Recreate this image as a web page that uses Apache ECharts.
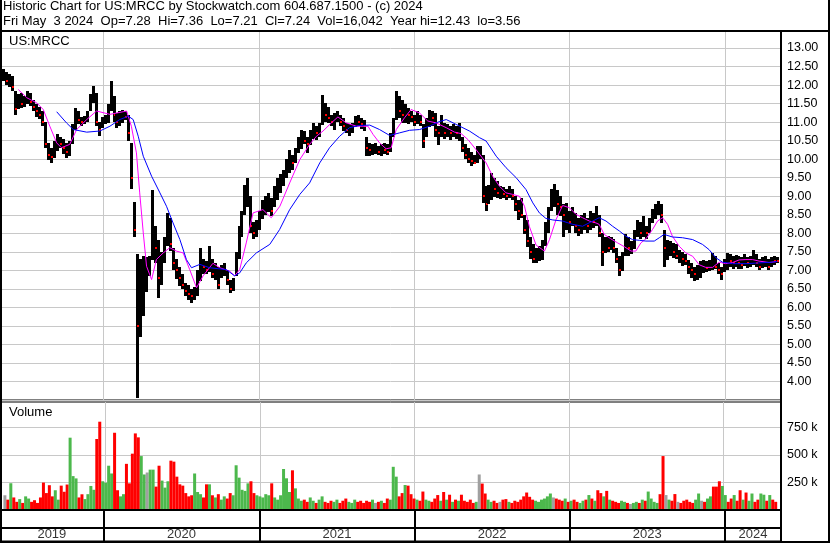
<!DOCTYPE html>
<html><head><meta charset="utf-8">
<script src="https://cdn.jsdelivr.net/npm/echarts@6/dist/echarts.min.js"></script>
<style>html,body{margin:0;padding:0;background:#fff}#c{width:830px;height:543px}</style>
</head><body><div id="c"></div>
<script>
// ---------- data (weekly bars, first bar = Friday 2019-05-10) ----------
const firstWeek = [2019, 4, 10];
const axisStart = [2019, 4, 2];
const axisEnd = [2024, 4, 12];
const yearBreaks = [2020, 2021, 2022, 2023, 2024];
const yearNames = ['2019', '2020', '2021', '2022', '2023', '2024'];

const weekLow = [
12.1,12.0,11.95,11.85,11.2,11.35,11.4,11.4,11.5,11.45,
11.3,11.15,11.07,10.9,10.3,10.0,9.9,10.05,10.2,10.3,
10.15,10.04,10.1,10.4,10.8,10.95,10.9,10.95,11.0,11.3,
11.5,10.9,10.62,10.85,10.95,11.0,11.3,11.0,10.85,10.9,
11.0,11.05,10.5,9.2,7.9,3.56,5.2,5.76,6.4,6.85,
7.29,7.2,6.26,6.6,7.2,7.65,7.5,7.0,6.75,6.6,
6.5,6.3,6.2,6.12,6.2,6.3,6.7,6.9,6.9,6.95,
6.8,6.75,6.5,6.8,6.85,6.6,6.4,6.45,6.85,7.3,
7.9,8.5,8.73,8.0,7.83,7.9,8.1,8.4,8.5,8.6,
8.46,8.7,8.9,9.1,9.3,9.5,9.63,9.7,9.9,10.17,
10.3,10.4,10.17,10.4,10.55,10.53,10.6,10.9,11.0,10.98,
10.9,10.8,11.0,10.9,10.76,10.7,10.62,10.7,10.85,10.9,
10.8,10.76,10.1,10.08,10.1,10.15,10.1,10.08,10.15,10.1,
10.2,10.6,11.07,11.1,10.98,11.0,10.95,11.0,10.89,10.95,
10.9,10.31,10.6,10.89,10.9,10.6,10.4,10.6,10.55,10.6,
10.53,10.6,10.55,10.5,10.2,10.0,9.9,9.81,9.85,9.9,
10.0,8.8,8.6,8.8,8.91,9.0,8.95,8.91,8.95,8.91,
8.95,8.9,8.6,8.37,8.4,8.0,7.65,7.3,7.2,7.2,
7.25,7.3,7.65,8.0,8.6,8.7,8.5,8.46,7.92,8.1,
8.01,8.2,8.0,7.92,8.0,8.1,8.0,8.1,8.15,8.2,
7.9,7.11,7.47,7.5,7.55,7.47,7.2,6.84,7.0,7.38,
7.4,7.45,7.6,7.92,7.83,7.9,7.85,8.0,8.28,8.4,
8.5,8.3,7.11,7.3,7.4,7.35,7.29,7.2,7.11,7.15,
6.9,6.8,6.71,6.75,6.8,6.93,6.95,7.0,7.02,7.05,
6.9,6.75,6.95,7.02,7.1,7.05,7.1,7.05,7.02,7.1,
7.05,7.1,7.15,7.11,7.0,7.05,7.1,7.0,7.1,7.15,7.21];

const weekHigh = [
12.43,12.35,12.3,12.25,11.85,11.75,11.8,11.7,11.85,11.8,
11.6,11.5,11.4,11.3,11.0,10.45,10.3,10.5,10.67,10.6,
10.55,10.45,10.5,10.95,11.39,11.3,11.15,11.16,11.3,11.75,
11.97,11.8,11.0,11.15,11.2,11.5,12.1,11.7,11.25,11.3,
11.34,11.3,11.2,10.45,8.85,7.45,7.3,7.38,7.35,7.4,
9.18,8.19,7.83,7.5,7.9,8.55,8.4,7.6,7.3,7.1,
6.9,6.66,6.6,6.5,6.55,7.0,7.6,7.3,7.25,7.65,
7.3,7.2,7.1,7.15,7.2,7.0,6.75,6.8,7.5,8.19,
8.6,9.3,9.5,9.0,8.3,8.37,8.6,8.9,9.0,9.1,
8.95,9.27,9.5,9.6,9.72,10.0,10.26,10.1,10.3,10.6,
10.8,10.75,10.6,10.8,10.98,10.9,10.98,11.72,11.52,11.4,
11.2,11.25,11.3,11.2,11.1,10.98,10.95,10.98,11.16,11.2,
11.1,11.05,10.6,10.44,10.4,10.44,10.35,10.4,10.44,10.4,
10.7,11.1,11.84,11.7,11.6,11.5,11.39,11.3,11.2,11.3,
11.2,10.95,11.1,11.34,11.3,11.25,10.9,11.2,10.98,10.95,
10.9,10.95,10.9,10.98,10.6,10.4,10.3,10.2,10.1,10.35,
10.35,10.1,9.27,9.3,9.63,9.5,9.4,9.27,9.25,9.2,
9.27,9.2,9.0,8.9,8.95,8.5,8.37,7.9,7.7,7.6,
7.65,7.83,8.3,8.7,9.2,9.32,9.18,9.0,8.8,8.82,
8.6,8.7,8.55,8.4,8.5,8.55,8.4,8.6,8.55,8.74,
8.5,8.0,7.9,7.92,7.9,7.85,7.6,7.38,7.5,7.97,
7.9,7.8,8.1,8.37,8.3,8.46,8.2,8.4,8.65,8.8,
8.87,8.8,8.1,7.83,7.8,7.75,7.7,7.56,7.5,7.45,
7.29,7.2,7.1,7.15,7.25,7.29,7.25,7.29,7.47,7.4,
7.2,7.1,7.3,7.47,7.45,7.4,7.42,7.4,7.35,7.43,
7.35,7.4,7.56,7.45,7.3,7.35,7.4,7.3,7.36,7.38,7.36];

const weekClose = [
12.25,12.1,12.2,11.95,11.35,11.6,11.5,11.65,11.7,11.55,
11.4,11.3,11.2,11.0,10.4,10.1,10.05,10.35,10.5,10.4,
10.3,10.2,10.35,10.85,11.2,11.05,11.0,11.1,11.2,11.6,
11.85,11.0,10.8,11.0,11.1,11.4,11.8,11.2,11.0,11.15,
11.2,11.15,10.7,9.5,8.1,5.5,6.5,6.9,6.9,7.1,
8.0,7.6,6.8,7.2,7.7,8.2,7.7,7.2,7.0,6.8,
6.6,6.45,6.35,6.3,6.4,6.9,7.3,7.1,7.0,7.5,
6.9,7.0,6.6,7.0,7.05,6.75,6.5,6.7,7.4,8.0,
8.4,9.1,9.2,8.2,8.0,8.2,8.5,8.7,8.8,8.9,
8.6,9.1,9.3,9.4,9.6,9.8,10.0,9.9,10.2,10.5,
10.6,10.5,10.4,10.7,10.8,10.7,10.9,11.3,11.2,11.1,
11.0,11.1,11.2,11.0,10.9,10.8,10.85,10.9,11.05,11.0,
10.95,10.9,10.3,10.25,10.3,10.3,10.2,10.3,10.25,10.2,
10.6,11.0,11.5,11.3,11.2,11.3,11.2,11.15,11.0,11.2,
11.0,10.5,11.0,11.2,11.1,10.8,10.7,11.0,10.7,10.8,
10.7,10.85,10.7,10.8,10.3,10.1,10.0,9.95,9.9,10.2,
10.2,9.0,8.8,9.1,9.4,9.2,9.1,9.1,9.05,9.0,
9.1,9.0,8.8,8.6,8.5,8.1,7.8,7.5,7.3,7.35,
7.4,7.7,8.1,8.6,8.9,8.9,8.8,8.7,8.5,8.6,
8.3,8.4,8.2,8.1,8.3,8.4,8.2,8.4,8.3,8.5,
8.0,7.5,7.7,7.6,7.8,7.6,7.3,7.0,7.4,7.7,
7.6,7.6,8.0,8.2,8.0,8.3,8.0,8.3,8.5,8.7,
8.75,8.5,7.6,7.6,7.7,7.5,7.4,7.4,7.3,7.25,
7.1,7.0,6.9,7.0,7.1,7.1,7.05,7.2,7.3,7.1,
7.0,6.9,7.2,7.3,7.25,7.2,7.3,7.2,7.15,7.3,
7.2,7.25,7.4,7.2,7.1,7.2,7.25,7.1,7.3,7.25,7.24];

// weekly volume, thousands of shares
const weekVolumeK = [
130,90,240,110,70,95,60,120,100,70,
85,60,110,246,150,222,120,176,90,218,
162,228,656,305,284,110,139,95,140,215,
180,644,802,258,245,400,329,701,176,120,
140,417,239,510,695,659,488,320,338,364,364,
209,400,264,200,258,446,437,300,230,218,
150,120,130,329,160,140,110,230,230,130,
110,140,90,120,100,150,130,404,291,180,
170,239,258,150,130,120,110,140,130,239,
110,90,130,370,285,160,358,193,100,80,
90,70,110,80,60,90,120,70,60,80,
70,90,60,80,100,70,60,90,70,80,
60,80,70,90,60,70,80,60,100,90,
390,300,120,150,224,218,140,100,90,80,
164,90,80,70,100,132,80,160,90,135,
70,90,80,135,80,70,90,60,70,320,
237,146,90,70,80,60,70,90,95,70,
60,80,70,90,120,155,116,90,80,70,
90,100,120,146,110,100,90,80,100,70,
80,90,70,60,80,90,132,100,80,176,
150,120,170,90,80,70,60,80,70,60,
50,60,70,60,90,80,164,100,70,60,
140,488,132,90,80,141,70,60,80,90,
70,60,90,146,80,70,100,120,209,209,
258,215,132,70,100,132,80,176,90,155,
80,146,70,90,146,135,80,132,90,70];

// magenta (short) moving average: week index -> price
const maShortWeeks = [5.0,7.8,11.2,13.4,15.6,17.9,19.5,22.3,24.6,28,31.3,35.8,41.4,43,44.7,45.8,47,48.1,49.8,51.4,53.7,55.9,58.1,60.4,62.6,64.9,67.1,70.4,72.7,76,77.7,79.4,81.6,83.9,87.2,90,92.9,96.2,99.6,102.9,105.2,107.4,110.2,112.4,115.2,118.6,122.5,124.2,126.4,128.6,130.3,132,134.8,137,139.8,142.6,145.4,148.8,151.6,153.8,156.1,158.8,162.2,164.4,166.7,168.9,171.1,173.4,175.1,176.7,179,181.8,183.5,185.7,187.9,190.2,192.4,194.6,196.9,199.1,200.2,201.9,204.1,206.4,208.6,210.9,212.5,214.2,215.9,218.1,219.8,221.5,223.2,224.8,227.1,229.3,231.6,233.8,236,238.3,240.5,242.7,245,247.2,249.5,251.7,253.9,257.3,260];
const maShortValues = [11.88,11.66,11.52,11.34,10.89,10.44,10.31,10.40,10.80,11.07,11.30,11.21,11.30,10.89,10.17,9.09,8.01,7.11,6.75,7.29,7.47,7.61,7.52,7.47,7.02,6.53,6.85,7.19,7.07,6.98,6.85,7.02,7.74,8.55,8.64,8.42,8.73,9.36,9.99,10.40,10.62,10.76,10.98,11.14,10.98,10.89,10.89,10.67,10.44,10.28,10.31,10.80,11.12,11.34,11.25,11.03,10.98,10.85,10.73,10.69,10.53,10.26,9.90,9.54,9.27,9.09,9.05,9.0,8.73,8.19,7.68,7.52,7.83,8.37,8.75,8.69,8.51,8.42,8.33,8.28,8.24,7.97,7.85,7.74,7.64,7.52,7.52,7.74,7.85,8.10,8.33,8.42,8.24,7.92,7.65,7.47,7.38,7.15,7.08,7.08,7.22,7.18,7.21,7.28,7.29,7.29,7.25,7.21,7.24];

// blue (long) moving average
const maLongWeeks = [17.9,21.2,23.5,28,32.4,35.8,39.1,42,43.6,45.3,47,49.8,52.6,54.8,57,59.3,61.5,63.2,66,69.3,74.9,77.7,79.4,81.6,85,89.5,92.8,96.2,99.6,102.9,106.3,109.6,113,116.3,119.7,123.1,126.4,129.8,133.1,136.5,139.8,143.2,146,148.8,152.1,156.6,160,162.2,165.6,168.9,172.3,175.6,177.9,180.1,182.3,184.6,187.9,191.3,194.6,198,200.2,202.5,204.7,207,209.2,211.4,213.7,215.9,218.7,220.4,222,224.8,228.2,231.6,234.9,237.1,239.4,241.6,245,249.5,253.9,258.4,260];
const maLongValues = [11.28,10.98,10.80,10.73,10.76,10.89,11.07,11.16,11.07,10.62,10.08,9.54,9.09,8.73,8.28,7.83,7.29,7.07,7.16,7.07,7.02,6.85,6.93,7.20,7.47,7.70,8.10,8.64,9.05,9.36,9.90,10.31,10.62,10.85,10.91,10.92,10.80,10.64,10.71,10.78,10.80,10.89,11.0,11.07,10.94,10.76,10.58,10.49,10.08,9.77,9.50,9.18,8.82,8.55,8.40,8.36,8.33,8.24,8.19,8.33,8.42,8.33,8.19,8.06,7.92,7.83,7.81,7.79,7.79,7.88,7.97,7.90,7.88,7.83,7.70,7.56,7.34,7.22,7.18,7.18,7.20,7.22,7.24];

const volumeTicksK = [250, 500, 750];
const headerLine1 = 'Historic Chart for US:MRCC by Stockwatch.com 604.687.1500 - (c) 2024';
const headerLine2 = 'Fri May  3 2024  Op=7.28  Hi=7.36  Lo=7.21  Cl=7.24  Vol=16,042  Year hi=12.43  lo=3.56';

// ---------- build ----------
const DAY = 864e5;
const t0 = new Date(firstWeek[0], firstWeek[1], firstWeek[2]).getTime();
const wt = w => t0 + w * 7 * DAY;
const xMin = new Date(axisStart[0], axisStart[1], axisStart[2]).getTime();
const xMax = new Date(axisEnd[0], axisEnd[1], axisEnd[2]).getTime();
const breakTimes = yearBreaks.map(y => new Date(y, 0, 1).getTime());
const segs = [xMin].concat(breakTimes, [xMax]);
const yearLabelData = yearNames.map((n, i) => ({name: n, value: [(segs[i] + segs[i + 1]) / 2, 0.22]}));

const GREEN = '#4cb84c', RED = '#ff0000', GRAY = '#a0a0a0';
const dir = weekClose.map((c, i) => i === 0 ? 0 : (c > weekClose[i - 1] ? 1 : (c < weekClose[i - 1] ? -1 : 0)));
const priceData = weekClose.map((c, i) => [wt(i), weekLow[i], weekHigh[i], c, dir[i] < 0 ? 1 : 0]);
const volData = weekVolumeK.map((v, i) => ({
  value: [wt(i), v * 1000],
  itemStyle: {color: dir[i] > 0 ? GREEN : (dir[i] < 0 ? RED : GRAY)}
}));
const maShort = maShortWeeks.map((w, i) => [wt(w), maShortValues[i]]);
const maLong = maLongWeeks.map((w, i) => [wt(w), maLongValues[i]]);

const FONT = 'Liberation Sans, Arial, sans-serif';
const GRID_GRAY = '#c8c8c8';

function renderBar(params, api) {
  const t = api.value(0);
  const top = api.coord([t, api.value(2)]);
  const bot = api.coord([t, api.value(1)]);
  const cp = api.coord([t, api.value(3)]);
  const down = api.value(4) === 1;
  const x = Math.round(top[0]);
  const children = [
    {type: 'rect', shape: {x: x - 1, y: Math.round(top[1]), width: 3, height: Math.max(1, Math.round(bot[1] - top[1]))}, style: {fill: '#000'}}
  ];
  if (down) {
    children.push({type: 'rect', shape: {x: x, y: Math.round(cp[1]) - 1, width: 2, height: 2}, style: {fill: RED}});
  }
  return {type: 'group', children: children};
}

const timeAxis = (gi, splitColor, splitWidth) => ({
  type: 'time', gridIndex: gi, min: xMin, max: xMax,
  axisLine: {show: false},
  axisTick: {show: false, customValues: breakTimes},
  axisLabel: {show: false},
  splitLine: {show: true, lineStyle: {color: splitColor, width: splitWidth}}
});

const txt = {fontSize: 13, fontWeight: 'normal', color: '#000', fontFamily: FONT};

const chart = echarts.init(document.getElementById('c'), null, {renderer: 'canvas'});
chart.setOption({
  animation: false,
  backgroundColor: '#fff',
  title: [
    {text: headerLine1, left: 3, top: 0, padding: 0, textStyle: txt},
    {text: headerLine2, left: 3, top: 15, padding: 0, textStyle: txt},
    {text: 'US:MRCC', left: 9, top: 35, padding: 0, textStyle: txt},
    {text: 'Volume', left: 9, top: 406, padding: 0, textStyle: txt}
  ],
  grid: [
    {left: 0, top: 31, width: 781, height: 369, show: true, borderColor: '#000', borderWidth: 1},
    {left: 0, top: 402, width: 781, height: 107.5, show: true, borderColor: '#000', borderWidth: 1},
    {left: 0, top: 510, width: 781, height: 31.5, show: true, borderColor: '#000', borderWidth: 2}
  ],
  xAxis: [timeAxis(0, GRID_GRAY, 1), timeAxis(1, GRID_GRAY, 1), timeAxis(2, '#000', 2)],
  yAxis: [
    {type: 'value', gridIndex: 0, position: 'right', min: 3.5, max: 13.46, interval: 0.5,
     axisLine: {show: false}, axisTick: {show: false},
     axisLabel: {margin: 6, fontSize: 12.5, color: '#000', fontFamily: FONT,
       showMinLabel: false, showMaxLabel: false, formatter: v => v.toFixed(2)},
     splitLine: {show: true, lineStyle: {color: GRID_GRAY, width: 1}}},
    {type: 'value', gridIndex: 1, position: 'right', min: 0, max: 982000,
     axisLine: {show: false},
     axisTick: {show: false, customValues: volumeTicksK.map(v => v * 1000)},
     axisLabel: {margin: 6, fontSize: 12.5, color: '#000', fontFamily: FONT,
       customValues: volumeTicksK.map(v => v * 1000), formatter: v => (v / 1000) + ' k'},
     splitLine: {show: true, lineStyle: {color: GRID_GRAY, width: 1}}},
    {type: 'value', gridIndex: 2, min: 0, max: 1, show: false}
  ],
  series: [
    {type: 'custom', name: 'price', xAxisIndex: 0, yAxisIndex: 0, renderItem: renderBar,
     encode: {x: 0, y: [1, 2, 3]}, data: priceData, z: 2},
    {type: 'line', name: 'maShort', xAxisIndex: 0, yAxisIndex: 0, data: maShort, symbol: 'none',
     lineStyle: {color: '#ff00ff', width: 1}, z: 3},
    {type: 'line', name: 'maLong', xAxisIndex: 0, yAxisIndex: 0, data: maLong, symbol: 'none',
     lineStyle: {color: '#0000ff', width: 1}, z: 3},
    {type: 'bar', name: 'volume', xAxisIndex: 1, yAxisIndex: 1, data: volData, barWidth: 3, z: 2},
    {type: 'scatter', name: 'years', xAxisIndex: 2, yAxisIndex: 2, data: yearLabelData,
     symbolSize: 1, itemStyle: {color: 'rgba(0,0,0,0)'},
     label: {show: true, position: 'inside', formatter: '{b}', fontSize: 13, color: '#000', fontFamily: FONT}}
  ],
  graphic: [
    {type: 'rect', shape: {x: 0, y: 30, width: 830, height: 2}, style: {fill: '#000'}, z: 100},
    {type: 'rect', shape: {x: 0, y: 0, width: 2, height: 543}, style: {fill: '#000'}, z: 100},
    {type: 'rect', shape: {x: 828, y: 0, width: 2, height: 543}, style: {fill: '#000'}, z: 100},
    {type: 'rect', shape: {x: 0, y: 541, width: 830, height: 2}, style: {fill: '#000'}, z: 100},
    {type: 'rect', shape: {x: 780, y: 31, width: 2, height: 511}, style: {fill: '#000'}, z: 100},
    {type: 'rect', shape: {x: 0, y: 509, width: 782, height: 2}, style: {fill: '#000'}, z: 100},
    {type: 'rect', shape: {x: 0, y: 527, width: 782, height: 2}, style: {fill: '#000'}, z: 100}
  ]
});
</script>
</body></html>
